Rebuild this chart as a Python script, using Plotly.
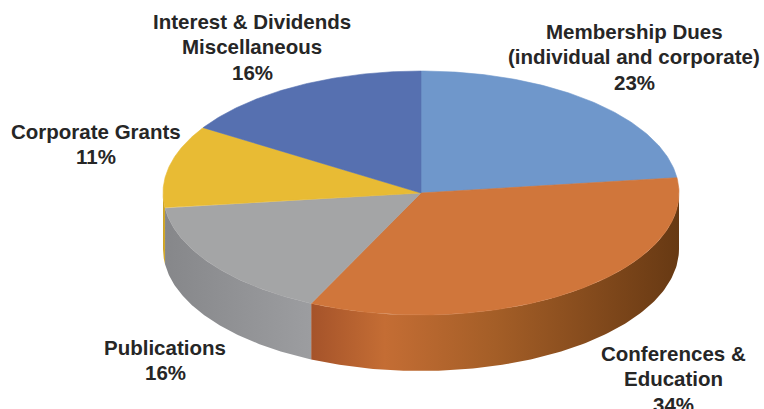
import numpy as np
import plotly.graph_objects as go

# ---- data ----
categories = [
    "Membership Dues (individual and corporate)",
    "Conferences & Education",
    "Publications",
    "Corporate Grants",
    "Interest & Dividends Miscellaneous",
]
label_lines = [
    ["Membership Dues", "(individual and corporate)"],
    ["Conferences &", "Education"],
    ["Publications"],
    ["Corporate Grants"],
    ["Interest & Dividends", "Miscellaneous"],
]
shares = [23, 34, 16, 11, 16]

# ---- style ----
top_colors = ["#6f97cb", "#d0763b", "#a4a5a6", "#e8bb34", "#5670b0"]
side_scales = [
    [[0, "#5a7fb0"], [1, "#3f5f8c"]],
    [[0, "#a5532a"], [0.2, "#c46d34"], [0.5, "#a45e27"], [1, "#673913"]],
    [[0, "#86878a"], [1, "#9c9da0"]],
    [[0, "#c9a126"], [1, "#d6ab2c"]],
    [[0, "#4a629c"], [1, "#3c5188"]],
]
label_pos = [(634, 31), (673, 353), (165, 347), (96, 131), (252, 21)]
LINE_H = 25.5
CX, CY, A, B, DEPTH = 421, 193, 258, 122, 56
W, H = 764, 409


def arc(t1, t2, n=120):
    t = np.radians(np.linspace(t1, t2, n))
    return CX + A * np.sin(t), CY - B * np.cos(t)


total = float(sum(shares))
bounds = np.concatenate([[0], np.cumsum(shares) / total * 360.0])

fig = go.Figure()

# side walls (only front half, 90..270 degrees clockwise from top)
for i, cat in enumerate(categories):
    lo, hi = max(bounds[i], 90.0), min(bounds[i + 1], 270.0)
    if hi <= lo:
        continue
    x, y = arc(lo, hi)
    px = np.concatenate([x, x[::-1], [x[0]]])
    py = np.concatenate([y, y[::-1] + DEPTH, [y[0]]])
    fig.add_trace(go.Scatter(
        x=px, y=py, mode="lines", fill="toself",
        line=dict(width=0), fillcolor=top_colors[i],
        fillgradient=dict(type="horizontal", colorscale=side_scales[i]),
        hoverinfo="skip", showlegend=False, name=cat,
    ))

# top faces
for i, cat in enumerate(categories):
    x, y = arc(bounds[i], bounds[i + 1])
    px = np.concatenate([[CX], x, [CX]])
    py = np.concatenate([[CY], y, [CY]])
    fig.add_trace(go.Scatter(
        x=px, y=py, mode="lines", fill="toself",
        line=dict(width=0.6, color=top_colors[i]), fillcolor=top_colors[i],
        hoverinfo="text", text=f"{cat}: {shares[i]}%",
        showlegend=False, name=cat,
    ))

# labels
for i, lines in enumerate(label_lines):
    lx, ly = label_pos[i]
    for j, t in enumerate(lines + [f"{shares[i]}%"]):
        fig.add_annotation(
            x=lx, y=ly + j * LINE_H, text=t, showarrow=False,
            xanchor="center", yanchor="middle",
            font=dict(family="Liberation Sans, Arial, sans-serif", size=20.5,
                      color="#262626", weight="bold"),
        )

fig.update_layout(
    width=W, height=H,
    margin=dict(l=0, r=0, t=0, b=0),
    paper_bgcolor="white", plot_bgcolor="white",
    xaxis=dict(range=[0, W], visible=False, fixedrange=True),
    yaxis=dict(range=[H, 0], visible=False, fixedrange=True),
)

fig.write_html(
    "out.html",
    config={"displayModeBar": False},
    post_script="document.body.style.margin='0';document.body.style.overflow='hidden';",
)
